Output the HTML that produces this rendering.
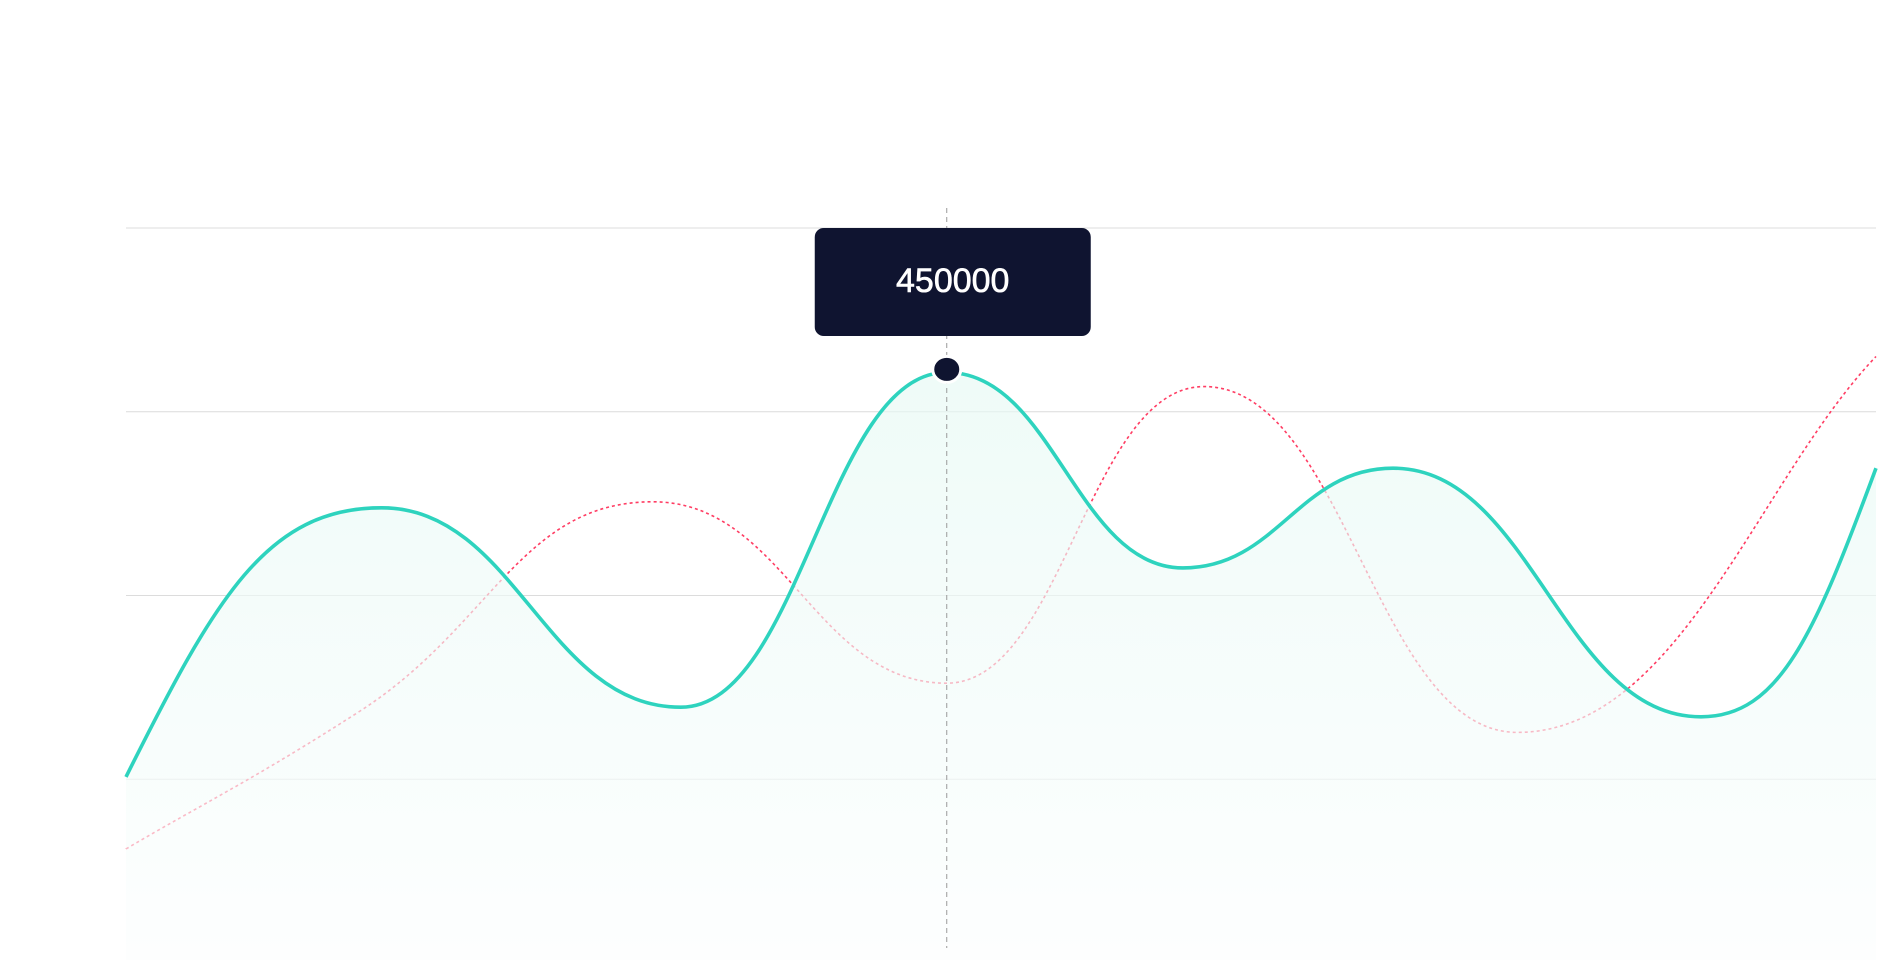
<!DOCTYPE html>
<html><head><meta charset="utf-8">
<style>
html,body{margin:0;padding:0;background:#fff;width:1883px;height:960px;overflow:hidden;font-family:"Liberation Sans",sans-serif;}
svg{display:block}
</style></head>
<body>
<svg id="chart" width="1883" height="960" viewBox="0 0 1883 960">
<defs>
<linearGradient id="fillGrad" x1="0" y1="0" x2="0" y2="1">
<stop offset="0" stop-color="#e6f9f4" stop-opacity="0.65"/>
<stop offset="1" stop-color="#fcfefe" stop-opacity="0.65"/>
</linearGradient>
</defs>
<g id="grid"></g>
<g id="series"></g>
</svg>
<script>
const yTicks = [140000, 280000, 420000, 560000];
const tealX = [0, 14.6, 31.7, 46.9, 60.4, 72.4, 90, 100];
const tealY = [141800, 346800, 194900, 450000, 301000, 377000, 187600, 377000];
const redX = [0, 13.4, 30.1, 46.9, 61.6, 79.5, 100];
const redY = [86900, 192200, 351400, 213200, 439200, 175700, 462100];
const activeIndex = 3;

const L = 126, R = 1876, T = 228, B = 963;
const xMax = 100, yMax = 560000;
const sx = v => L + (v / xMax) * (R - L);
const sy = v => B - (v / yMax) * (B - T);
const NS = "http://www.w3.org/2000/svg";
function mk(tag, attrs, parent){const e=document.createElementNS(NS,tag);for(const k in attrs)e.setAttribute(k,attrs[k]);parent.appendChild(e);return e;}

function smoothPath(px, py, endMul, endK){
  const n=px.length, d=[], m=[];
  for(let i=0;i<n-1;i++) d.push((py[i+1]-py[i])/(px[i+1]-px[i]));
  for(let i=0;i<n;i++){
    if(i===0) m.push(d[0]*endMul); else if(i===n-1) m.push(d[n-2]*endMul);
    else if(d[i-1]*d[i]<=0) m.push(0);
    else { const h0=px[i]-px[i-1], h1=px[i+1]-px[i];
      m.push(3*(h0+h1)/((2*h1+h0)/d[i-1]+(h1+2*h0)/d[i])); }
  }
  let s=`M${px[0]},${py[0]}`;
  for(let i=0;i<n-1;i++){
    const w=px[i+1]-px[i];
    const h0=w*(i===0?endK:0.45), h1=w*(i===n-2?endK:0.45);
    s+=` C${px[i]+h0},${py[i]+m[i]*h0} ${px[i+1]-h1},${py[i+1]-m[i+1]*h1} ${px[i+1]},${py[i+1]}`;
  }
  return s;
}

const grid=document.getElementById('grid');
yTicks.forEach(t=>{
  const ln=mk('line',{x1:L,x2:R,y1:sy(t),y2:sy(t),stroke:'#dcdcdc','stroke-width':1},grid);
  
  
});

const g=document.getElementById('series');
const rp=redX.map(sx), rq=redY.map(sy);
const red=mk('path',{d:smoothPath(rp,rq,1.0,0.33),fill:'none',stroke:'#ff3d63','stroke-width':1.6,'stroke-dasharray':'3 3'},g);



const tp=tealX.map(sx), tq=tealY.map(sy);
const lineD=smoothPath(tp,tq,1.9,0.35);
const area=mk('path',{d:lineD+` L${tp[tp.length-1]},960 L${tp[0]},960 Z`,fill:'url(#fillGrad)'},g);


const teal=mk('path',{d:lineD,fill:'none',stroke:'#2ed3be','stroke-width':3.6},g);



const ax=sx(tealX[activeIndex]), ay=sy(tealY[activeIndex]);
const cross=mk('line',{x1:ax,x2:ax,y1:208,y2:948,stroke:'#999','stroke-width':1,'stroke-dasharray':'5 4'},g);


const dot=mk('ellipse',{cx:ax,cy:ay-3,rx:14,ry:13,fill:'#0f1430',stroke:'#fff','stroke-width':3},g);


const tip=mk('g',{},g);


mk('rect',{x:ax-132,y:228,width:276,height:108,rx:9,fill:'#0f1430'},tip);
const tx=mk('text',{x:ax+6,y:292,'text-anchor':'middle',fill:'#fff','font-size':34,stroke:'#fff','stroke-width':0.6,'font-family':'"Liberation Sans",sans-serif'},tip);
tx.textContent=String(tealY[activeIndex]);


</script>
</body></html>
